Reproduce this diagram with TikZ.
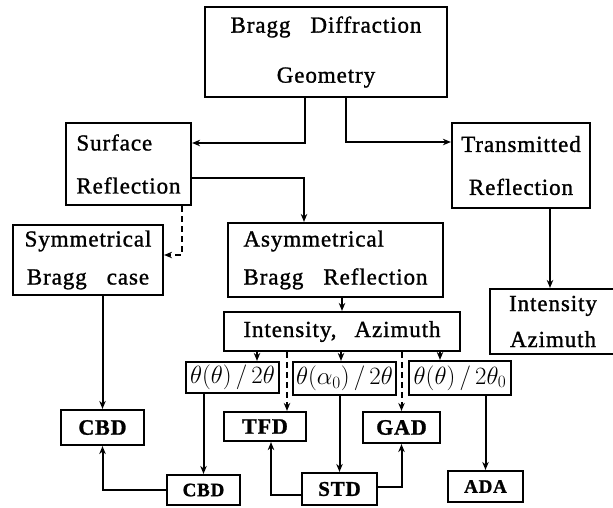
\documentclass[tikz,border=0pt]{standalone}
\usepackage{fontspec}
\setmainfont{Liberation Serif}[LetterSpace=4,WordSpace=3,FakeBold=1.2]
\usetikzlibrary{arrows.meta}
\begin{document}
\begin{tikzpicture}
        [x=1pt, y=-1pt,
        box/.style={rectangle,draw,line width=2.2pt,inner sep=0pt},
        two/.style={align=center,font=\fontsize{23}{#1}\selectfont},
        tag/.style={font=\fontsize{#1}{#1}\selectfont\bfseries},
        ang/.style={font=\fontsize{23}{26}\selectfont},
        arr/.style={-{Stealth[length=8pt,width=6.5pt]},line width=2pt},
        darr/.style={arr,dash pattern=on 6pt off 4pt}]
        \useasboundingbox (0,0) rectangle (613,507);
        % upper part
        \node (top) at (326,52) [box, two=50, minimum width=242, minimum height=90] {Bragg Diffraction\\Geometry};
        \node (surf) at (128.5,164) [box, two=43, align=left, minimum width=125, minimum height=82] {Surface\\Reflection};
        \node (trans) at (521,165.5) [box, two=43, minimum width=138, minimum height=85] {Transmitted\\Reflection};
        \node (sym) at (88,260) [box, two=38, minimum width=150, minimum height=70] {Symmetrical\\Bragg case};
        \node (asym) at (335.5,260) [box, two=38, align=left, minimum width=215, minimum height=74] {Asymmetrical\\Bragg Reflection};
        \node (intaz) at (342,331.5) [box, two=26, minimum width=236, minimum height=39] {Intensity,\hspace{18pt}Azimuth};
        \node (ia) at (553,321.5) [box, two=36, minimum width=126, minimum height=65] {Intensity\\Azimuth};
        % angle scans
        \node (s1) at (232.5,377.5) [box, ang, minimum width=93, minimum height=31] {$\theta(\theta)\,/\,2\theta$};
        \node (s2) at (344.5,378.5) [box, ang, minimum width=103, minimum height=33] {$\theta(\alpha_0)\,/\,2\theta$};
        \node (s3) at (460,378) [box, ang, minimum width=102, minimum height=34] {$\theta(\theta)\,/\,2\theta_0$};
        % methods
        \node (cbdA) at (102.5,427.5) [box, tag=22, minimum width=83, minimum height=35] {CBD};
        \node (tfd) at (265,426.5) [box, tag=22, minimum width=82, minimum height=29] {TFD};
        \node (gad) at (401.5,427.5) [box, tag=22, minimum width=77, minimum height=31] {GAD};
        \node (cbdB) at (203.5,490) [box, tag=19, minimum width=73, minimum height=30] {CBD};
        \node (std) at (339.5,489) [box, tag=21, minimum width=75, minimum height=32] {STD};
        \node (ada) at (485.5,486.5) [box, tag=19, minimum width=75, minimum height=31] {ADA};
        % connectors
        \draw[arr] ([xshift=-21pt]top.south) |- ([yshift=21pt]surf.east);
        \draw[arr] ([xshift=20pt]top.south) |- ([yshift=23.5pt]trans.west);
        \draw[arr] ([yshift=-14pt]surf.east) -| ([xshift=-31.5pt]asym.north);
        \draw[darr] ([xshift=53.5pt]surf.south) |- ([yshift=5pt]sym.east);
        \draw[arr] ([xshift=29pt]trans.south) -- ([xshift=29pt]trans.south |- ia.north);
        \draw[arr] (intaz.north |- asym.south) -- (intaz.north);
        \draw[arr] (cbdA.north |- sym.south) -- (cbdA.north);
        \draw[arr] ([xshift=24.5pt]s1.north |- intaz.south) -- ([xshift=24.5pt]s1.north);
        \draw[arr] ([xshift=-3.5pt]s2.north |- intaz.south) -- ([xshift=-3.5pt]s2.north);
        \draw[arr] ([xshift=-20pt]s3.north |- intaz.south) -- ([xshift=-20pt]s3.north);
        \draw[darr] ([xshift=22pt]tfd.north |- intaz.south) -- ([xshift=22pt]tfd.north);
        \draw[darr] (gad.north |- intaz.south) -- (gad.north);
        \draw[arr] (cbdB.north |- s1.south) -- (cbdB.north);
        \draw[arr] (std.north |- s2.south) -- (std.north);
        \draw[arr] (ada.north |- s3.south) -- (ada.north);
        \draw[arr] (cbdB.west) -| (cbdA.south);
        \draw[arr] ([yshift=-6pt]std.west) -| ([xshift=6pt]tfd.south);
        \draw[arr] ([yshift=2pt]std.east) -| (gad.south);
      \end{tikzpicture}
\end{document}
